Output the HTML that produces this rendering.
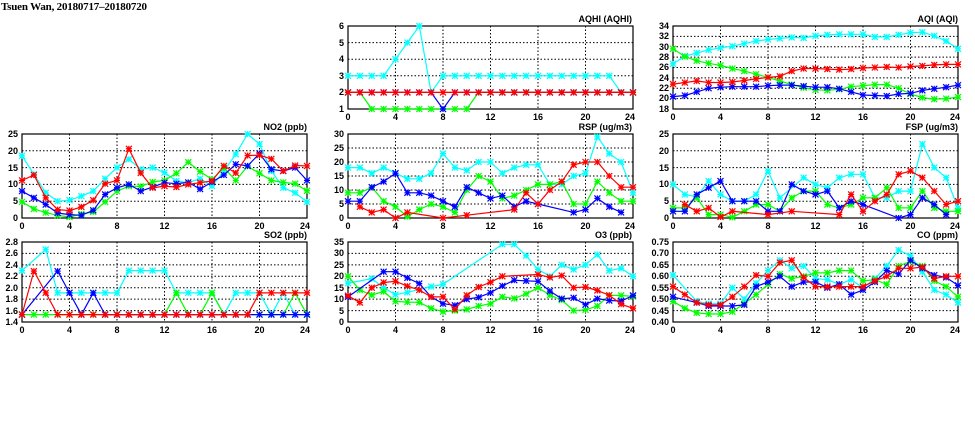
<!DOCTYPE html>
<html><head><meta charset="utf-8"><style>
html,body{margin:0;padding:0;background:#fff;width:975px;height:447px;overflow:hidden}
svg{display:block}
text{font-family:"Liberation Sans",sans-serif;font-size:9px;font-weight:bold;fill:#000}
.r{text-anchor:end}.m{text-anchor:middle}
</style></head><body>
<svg id="s" width="975" height="447" xmlns="http://www.w3.org/2000/svg">
<text x="1" y="10" style="font-family:'Liberation Serif',serif;font-size:11px" textLength="146">Tsuen Wan, 20180717–20180720</text>
<g id="g"></g>
<!-- titles -->
<text class="r" x="632" y="22">AQHI (AQHI)</text>
<text class="r" x="958" y="22">AQI (AQI)</text>
<text class="r" x="307" y="130">NO2 (ppb)</text>
<text class="r" x="632" y="130">RSP (ug/m3)</text>
<text class="r" x="958" y="130">FSP (ug/m3)</text>
<text class="r" x="307" y="238">SO2 (ppb)</text>
<text class="r" x="632" y="238">O3 (ppb)</text>
<text class="r" x="958" y="238">CO (ppm)</text>
<!-- AQHI y -->
<text class="r" x="344" y="29">6</text><text class="r" x="344" y="46">5</text><text class="r" x="344" y="62">4</text><text class="r" x="344" y="79">3</text><text class="r" x="344" y="95">2</text><text class="r" x="344" y="112">1</text>
<!-- AQI y -->
<text class="r" x="669" y="29">34</text><text class="r" x="669" y="39">32</text><text class="r" x="669" y="50">30</text><text class="r" x="669" y="60">28</text><text class="r" x="669" y="70">26</text><text class="r" x="669" y="81">24</text><text class="r" x="669" y="91">22</text><text class="r" x="669" y="101">20</text><text class="r" x="669" y="112">18</text>
<!-- NO2 y -->
<text class="r" x="18" y="137">25</text><text class="r" x="18" y="154">20</text><text class="r" x="18" y="171">15</text><text class="r" x="18" y="187">10</text><text class="r" x="18" y="204">5</text><text class="r" x="18" y="221">0</text>
<!-- RSP y -->
<text class="r" x="344" y="137">30</text><text class="r" x="344" y="151">25</text><text class="r" x="344" y="165">20</text><text class="r" x="344" y="179">15</text><text class="r" x="344" y="193">10</text><text class="r" x="344" y="207">5</text><text class="r" x="344" y="221">0</text>
<!-- FSP y -->
<text class="r" x="669" y="137">25</text><text class="r" x="669" y="154">20</text><text class="r" x="669" y="171">15</text><text class="r" x="669" y="187">10</text><text class="r" x="669" y="204">5</text><text class="r" x="669" y="221">0</text>
<!-- SO2 y -->
<text class="r" x="18" y="245">2.8</text><text class="r" x="18" y="256">2.6</text><text class="r" x="18" y="268">2.4</text><text class="r" x="18" y="279">2.2</text><text class="r" x="18" y="291">2.0</text><text class="r" x="18" y="302">1.8</text><text class="r" x="18" y="314">1.6</text><text class="r" x="18" y="325">1.4</text>
<!-- O3 y -->
<text class="r" x="344" y="245">35</text><text class="r" x="344" y="256">30</text><text class="r" x="344" y="268">25</text><text class="r" x="344" y="279">20</text><text class="r" x="344" y="291">15</text><text class="r" x="344" y="302">10</text><text class="r" x="344" y="314">5</text><text class="r" x="344" y="325">0</text>
<!-- CO y -->
<text class="r" x="669" y="245">0.75</text><text class="r" x="669" y="256">0.70</text><text class="r" x="669" y="268">0.65</text><text class="r" x="669" y="279">0.60</text><text class="r" x="669" y="291">0.55</text><text class="r" x="669" y="302">0.50</text><text class="r" x="669" y="314">0.45</text><text class="r" x="669" y="325">0.40</text>
<!-- x labels row1 -->
<text class="m" x="348" y="120">0</text><text class="m" x="395.5" y="120">4</text><text class="m" x="443" y="120">8</text><text class="m" x="490.5" y="120">12</text><text class="m" x="538" y="120">16</text><text class="m" x="585.5" y="120">20</text><text class="m" x="630" y="120">24</text>
<text class="m" x="673" y="120">0</text><text class="m" x="720.5" y="120">4</text><text class="m" x="768" y="120">8</text><text class="m" x="815.5" y="120">12</text><text class="m" x="863" y="120">16</text><text class="m" x="910.5" y="120">20</text><text class="m" x="955" y="120">24</text>
<!-- row2 -->
<text class="m" x="22" y="229">0</text><text class="m" x="69.5" y="229">4</text><text class="m" x="117" y="229">8</text><text class="m" x="164.5" y="229">12</text><text class="m" x="212" y="229">16</text><text class="m" x="259.5" y="229">20</text><text class="m" x="305" y="229">24</text>
<text class="m" x="348" y="229">0</text><text class="m" x="395.5" y="229">4</text><text class="m" x="443" y="229">8</text><text class="m" x="490.5" y="229">12</text><text class="m" x="538" y="229">16</text><text class="m" x="585.5" y="229">20</text><text class="m" x="630" y="229">24</text>
<text class="m" x="673" y="229">0</text><text class="m" x="720.5" y="229">4</text><text class="m" x="768" y="229">8</text><text class="m" x="815.5" y="229">12</text><text class="m" x="863" y="229">16</text><text class="m" x="910.5" y="229">20</text><text class="m" x="955" y="229">24</text>
<!-- row3 -->
<text class="m" x="22" y="333">0</text><text class="m" x="69.5" y="333">4</text><text class="m" x="117" y="333">8</text><text class="m" x="164.5" y="333">12</text><text class="m" x="212" y="333">16</text><text class="m" x="259.5" y="333">20</text><text class="m" x="305" y="333">24</text>
<text class="m" x="348" y="333">0</text><text class="m" x="395.5" y="333">4</text><text class="m" x="443" y="333">8</text><text class="m" x="490.5" y="333">12</text><text class="m" x="538" y="333">16</text><text class="m" x="585.5" y="333">20</text><text class="m" x="630" y="333">24</text>
<text class="m" x="673" y="333">0</text><text class="m" x="720.5" y="333">4</text><text class="m" x="768" y="333">8</text><text class="m" x="815.5" y="333">12</text><text class="m" x="863" y="333">16</text><text class="m" x="910.5" y="333">20</text><text class="m" x="955" y="333">24</text>
</svg>
<script>
var N=null;
var P=[
{x:348,y:26,h:83,lo:1,hi:6,st:1,d:{
c:[3,3,3,3,4,5,6,2,3,3,3,3,3,3,3,3,3,3,3,3,3,3,3,2,2],
g:[2,2,1,1,1,1,1,1,1,1,1,2,2,2,2,2,2,2,2,2,2,2,2,2,2],
b:[2,2,2,2,2,2,2,2,1,2,2,2,2,2,2,2,2,2,2,2,2,2,2,2,2],
r:[2,2,2,2,2,2,2,2,2,2,2,2,2,2,2,2,2,2,2,2,2,2,2,2,2]}},
{x:673,y:26,h:83,lo:18,hi:34,st:2,d:{
c:[26.7,28.2,28.8,29.4,29.8,30.1,30.6,31.1,31.4,31.6,31.8,31.7,32.1,32.3,32.4,32.4,32.4,31.9,31.9,32.3,32.7,32.8,32.1,31.1,29.6],
g:[29.6,28.1,27.3,26.8,26.4,25.8,25.3,24.7,24.1,23.4,22.7,22.1,21.7,21.6,21.8,22.3,22.5,22.7,22.7,22.0,20.9,20.2,19.9,20.0,20.3],
b:[20.4,20.6,21.3,22.0,22.2,22.3,22.3,22.3,22.5,22.6,22.6,22.4,22.2,22.2,21.9,21.3,20.7,20.6,20.5,20.9,21.0,21.6,21.9,22.2,22.6],
r:[22.8,23.1,23.4,23.1,23.1,23.2,23.5,23.8,24.1,24.3,25.3,25.8,25.8,25.7,25.6,25.7,25.9,26.0,26.1,26.0,26.2,26.3,26.5,26.6,26.6]}},
{x:22,y:134,h:84,lo:0,hi:25,st:5,d:{
c:[18.5,13,7.5,5,5.3,6.5,8,11.7,15,17.5,14.5,15,13.5,11,10.5,11.7,9.5,14,19,25,22,14,9,7.5,4.8],
g:[4.8,2.7,1.6,0.8,0.3,1.2,1.8,4.8,8,9.5,9.4,10.7,11.2,13.3,16.6,13.8,11.5,14.9,11.2,15.4,13.3,11.2,10.6,10.2,8.1],
b:[8,6,4,1.5,1,0.8,2.3,7,9,10,8,9.2,10.5,10.2,10.6,8.6,10.7,12.8,16,15.5,19.2,14.5,14,15,11.2],
r:[11.2,12.8,6,2.5,2.2,3.3,5.3,10.2,11.2,20.6,13.4,9,9.5,9.2,10,10.5,11,15.5,13.4,18.6,18.7,17.6,14,15.6,15.5]}},
{x:348,y:134,h:84,lo:0,hi:30,st:5,d:{
c:[18,18,16,18,16,14,14,16,23,18,17,20,20,16,18,19,19,12,12,15,16,29,23,20,9],
g:[9,9,11,6,4,0.5,3,5,4,2,10,15,13,7,8,10,12,12,13,5,5,13,9,6,6],
b:[6,6,11,13,16,9,9,8,6,4,11,9,7,8,4,6,5,N,N,2,3,7,4,2,N],
r:[N,4,2,3,0,2,N,N,0,N,1,N,N,N,3,9,5,10,13,19,20,20,15,11,11]}},
{x:673,y:134,h:84,lo:0,hi:25,st:5,d:{
c:[10,7,6.3,11,7,5,5,7,14,6,N,12,10,9,12,13,13,6,6,8,8,22,15,12,3],
g:[3,3,6,1,1,0.2,2,4,4,2,6,8,8,4,3,4,6,6,9,3,3,8,3,2,2],
b:[2,2,7,9,11,5,5,5,2,2,10,8,7,8,3,5,4,N,N,0,1,6,4,1,N],
r:[N,4,2,3,0.3,2,N,N,1,N,2,N,N,N,1,7,2,5,7,13,14,12,8,4,5]}},
{x:22,y:242,h:80,lo:1.4,hi:2.8,st:0.2,d:{
c:[2.3,N,2.67,1.91,1.91,1.91,1.91,1.91,1.91,2.3,2.3,2.3,2.3,1.91,1.91,1.91,1.91,1.53,1.91,1.91,1.91,1.53,1.91,1.53,1.53],
g:[1.53,1.53,1.53,1.53,1.53,1.53,1.53,1.53,1.53,1.53,1.53,1.53,1.53,1.91,1.53,1.53,1.91,1.53,1.53,1.53,1.53,1.53,1.53,1.91,1.53],
b:[1.53,N,N,2.29,1.91,1.53,1.91,1.53,1.53,1.53,1.53,1.53,1.53,1.53,1.53,1.53,1.53,1.53,1.53,1.53,1.53,1.53,1.53,1.53,1.53],
r:[1.53,2.29,1.91,1.53,1.53,1.53,1.53,1.53,1.53,1.53,1.53,1.53,1.53,1.53,1.53,1.53,1.53,1.53,1.53,1.53,1.91,1.91,1.91,1.91,1.91]}},
{x:348,y:242,h:80,lo:0,hi:35,st:5,d:{
c:[17,N,19,15,12,13,N,15.5,16.5,N,N,N,N,34,34,29,23,20,25,23,25,29.5,22.5,23.5,20],
g:[20,14,11.8,13.3,9,8.7,8.6,6,4.5,5,5.5,7,8,11,10.3,12.3,15,11.8,9.6,5,5.3,7,11.7,11.6,11.2],
b:[11,N,N,22,22,19.3,16.8,11,8,7.3,10,10.8,12.8,15.8,18.3,18,17.8,13.5,10.2,10.6,7.6,10.2,9.4,9.2,11.6],
r:[11.5,8.5,15,17.3,17.8,15.7,14,11,11,5.5,11.7,15.3,17.4,20,N,N,20.8,19.5,20.3,15,15.3,13.8,11.7,7.8,6]}},
{x:673,y:242,h:80,lo:0.4,hi:0.75,st:0.05,d:{
c:[.605,N,.49,.48,.48,.55,.50,.57,.625,.67,.635,.645,.59,.585,.565,.585,.55,.59,.645,.715,.69,.62,.54,.52,.485],
g:[.49,.46,.44,.435,.435,.445,.48,.52,.565,.61,.59,.60,.615,.615,.625,.625,.58,.585,.565,.645,.665,.645,.58,.555,.51],
b:[.51,N,.485,.47,.47,.47,.475,.555,.575,.60,.555,.575,.575,.55,.565,.52,.54,.575,.625,.61,.67,.635,.605,.595,.56],
r:[.555,.52,.485,.475,.475,.51,.555,.605,.60,.66,.67,.595,.555,.555,.555,.555,.555,.58,.60,.635,.635,.64,.59,.60,.60]}}
];
var col={c:"#00ffff",g:"#00ff00",b:"#0000ff",r:"#ff0000"};
var h="",W=285;
P.forEach(function(p){
 var X=function(t){return p.x+t/24*W},Y=function(v){return p.y+p.h*(p.hi-v)/(p.hi-p.lo)};
 for(var v=p.lo+p.st;v<p.hi-1e-6;v+=p.st){var y=Y(v).toFixed(1);h+='<line x1="'+p.x+'" x2="'+(p.x+W)+'" y1="'+y+'" y2="'+y+'" stroke="#000" stroke-width="1" stroke-dasharray="1.5,2"/>';}
 for(var t=4;t<24;t+=4){var x=X(t).toFixed(1);h+='<line x1="'+x+'" x2="'+x+'" y1="'+p.y+'" y2="'+(p.y+p.h)+'" stroke="#000" stroke-width="1" stroke-dasharray="1.5,2"/>';}
 h+='<rect x="'+p.x+'" y="'+p.y+'" width="'+W+'" height="'+p.h+'" fill="none" stroke="#000" stroke-width="1.2"/>';
 ["c","g","b","r"].forEach(function(k){
  var a=p.d[k],pts=[];
  a.forEach(function(v,i){if(v!==null)pts.push([X(i),Y(v)]);});
  h+='<polyline fill="none" stroke="'+col[k]+'" stroke-width="1.2" points="'+pts.map(function(q){return q[0].toFixed(1)+","+q[1].toFixed(1)}).join(" ")+'"/>';
  pts.forEach(function(q){var x=q[0],y=q[1],s=3;
   h+='<path d="M'+(x-s)+' '+(y-s)+'L'+(x+s)+' '+(y+s)+'M'+(x-s)+' '+(y+s)+'L'+(x+s)+' '+(y-s)+'M'+(x-s)+' '+y+'L'+(x+s)+' '+y+'M'+x+' '+(y-s)+'L'+x+' '+(y+s)+'" stroke="'+col[k]+'" stroke-width="1.2"/>';});
 });
});
document.getElementById("g").innerHTML=h;
</script>
</body></html>
